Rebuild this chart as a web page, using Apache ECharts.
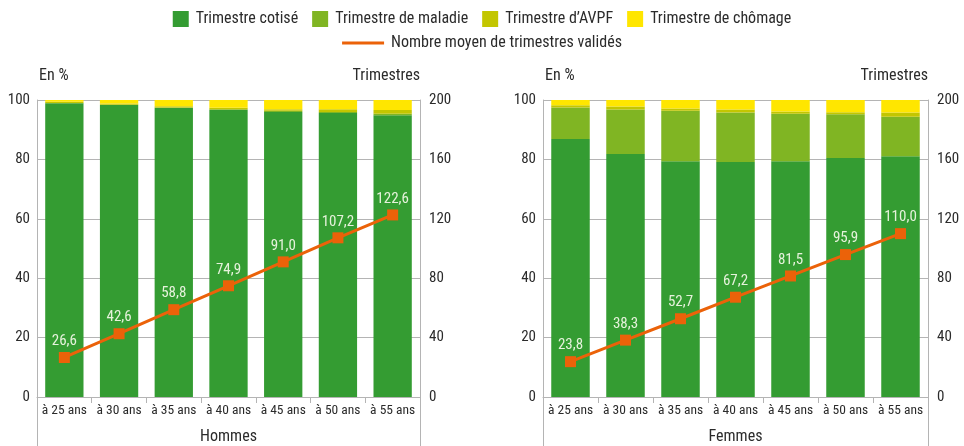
<!DOCTYPE html>
<html><head><meta charset="utf-8">
<script src="https://cdn.jsdelivr.net/npm/echarts@6/dist/echarts.min.js"></script>
<style>html,body{margin:0;padding:0;background:#fff}#c{width:964px;height:446px}</style>
</head><body><div id="c"></div>
<script>
const categories = ['à 25 ans','à 30 ans','à 35 ans','à 40 ans','à 45 ans','à 50 ans','à 55 ans'];
// Hommes (en %)
const hCotise   = [98.9, 98.3, 97.3, 96.6, 96.0, 95.6, 94.9];
const hMaladie  = [0.1, 0.1, 0.2, 0.3, 0.4, 0.4, 0.5];
const hAvpf     = [0.4, 0.4, 0.4, 0.5, 0.5, 0.9, 1.2];
const hChomage  = [0.6, 1.2, 2.1, 2.6, 3.1, 3.1, 3.4];
const hTrim     = [26.6, 42.6, 58.8, 74.9, 91.0, 107.2, 122.6];
// Femmes (en %)
const fCotise   = [86.9, 81.8, 79.4, 79.1, 79.4, 80.5, 81.1];
const fMaladie  = [10.6, 15.0, 17.0, 16.7, 16.0, 14.7, 13.3];
const fAvpf     = [0.7, 1.0, 0.7, 1.0, 0.7, 0.7, 1.4];
const fChomage  = [1.8, 2.2, 2.9, 3.2, 3.9, 4.1, 4.2];
const fTrim     = [23.8, 38.3, 52.7, 67.2, 81.5, 95.9, 110.0];
const leftTicks = [0, 20, 40, 60, 80, 100];
const rightTicks = [0, 40, 80, 120, 160, 200];
const panels = ['Hommes', 'Femmes'];

const FONT = '"Liberation Sans Narrow", "Roboto Condensed", Roboto, sans-serif';
const COLORS = {cot:'#349c32', mal:'#80b523', avpf:'#c3c600', cho:'#ffe600', line:'#eb6209'};
const TXT = '#2b2b2b';
const GRIDC = '#b4b4b4';

const grids = [
  {left: 37, right: 544, top: 100, bottom: 49, outerBoundsMode:'none', containLabel:false},
  {left: 543, right: 36, top: 100, bottom: 49, outerBoundsMode:'none', containLabel:false}
];
const xAxis = [], yAxis = [], series = [];
[0,1].forEach(i => {
  xAxis.push({type:'category', gridIndex:i, data:categories,
    name: panels[i], nameLocation:'middle', nameGap:32,
    nameTextStyle:{fontFamily:FONT, fontSize:16, color:TXT},
    axisLine:{lineStyle:{color:GRIDC}},
    axisTick:{show:true, length:6, alignWithLabel:false, lineStyle:{color:GRIDC}},
    axisLabel:{fontFamily:FONT, fontSize:13.5, color:TXT, margin:7, interval:0}});
  yAxis.push({type:'value', gridIndex:i, min:0, max:100, interval:20,
    name:'En %', nameLocation:'end', nameGap:16,
    nameTextStyle:{fontFamily:FONT, fontSize:16, color:TXT, align:'left', padding:[0,0,0,2]},
    axisLine:{show:true, lineStyle:{color:GRIDC}}, axisTick:{show:false},
    splitLine:{lineStyle:{color:GRIDC}},
    axisLabel:{fontFamily:FONT, fontSize:15, color:TXT, margin:7}});
  yAxis.push({type:'value', gridIndex:i, min:0, max:200, interval:40, position:'right',
    name:'Trimestres', nameLocation:'end', nameGap:16,
    nameTextStyle:{fontFamily:FONT, fontSize:16, color:TXT, align:'right'},
    axisLine:{show:true, lineStyle:{color:GRIDC}}, axisTick:{show:false},
    splitLine:{show:false},
    axisLabel:{fontFamily:FONT, fontSize:15, color:TXT, margin:9}});
});
const sets = [[hCotise,hMaladie,hAvpf,hChomage,hTrim],[fCotise,fMaladie,fAvpf,fChomage,fTrim]];
const names = ['Trimestre cotisé','Trimestre de maladie',"Trimestre d’AVPF",'Trimestre de chômage'];
const cols = [COLORS.cot, COLORS.mal, COLORS.avpf, COLORS.cho];
[0,1].forEach(i => {
  for (let k=0;k<4;k++) {
    series.push({type:'bar', name:names[k], stack:'s'+i, xAxisIndex:i, yAxisIndex:2*i,
      data:sets[i][k], barCategoryGap:'30%', itemStyle:{color:cols[k]}, emphasis:{disabled:true}});
  }
  series.push({type:'line', name:'Nombre moyen de trimestres validés', xAxisIndex:i, yAxisIndex:2*i+1,
    data:sets[i][4], symbol:'rect', symbolSize:11, z:10,
    lineStyle:{color:COLORS.line, width:3}, itemStyle:{color:COLORS.line},
    label:{show:true, position:'top', distance:3, fontFamily:FONT, fontSize:15, color:'#e6f2dc',
      formatter: p => p.value.toFixed(1).replace('.', ',')}});
});

const chart = echarts.init(document.getElementById('c'), null, {renderer:'canvas'});
chart.setOption({
  animation:false,
  legend:[
    {top:6, left:'center', itemWidth:16, itemHeight:16, itemGap:14, icon:'rect',
     data:names, textStyle:{fontFamily:FONT, fontSize:16, color:TXT, padding:[0,0,0,2]}},
    {top:30, left:'center', itemWidth:42, itemHeight:3, icon:'rect',
     data:['Nombre moyen de trimestres validés'], textStyle:{fontFamily:FONT, fontSize:16, color:TXT, padding:[0,0,0,2]}}
  ],
  grid:grids, xAxis, yAxis, series,
  graphic:[
    {type:'line', shape:{x1:37.5,y1:397,x2:37.5,y2:446}, style:{stroke:GRIDC, lineWidth:1}},
    {type:'line', shape:{x1:420.5,y1:397,x2:420.5,y2:446}, style:{stroke:GRIDC, lineWidth:1}},
    {type:'line', shape:{x1:543.5,y1:397,x2:543.5,y2:446}, style:{stroke:GRIDC, lineWidth:1}},
    {type:'line', shape:{x1:928.5,y1:397,x2:928.5,y2:446}, style:{stroke:GRIDC, lineWidth:1}}
  ]
});
</script></body></html>
